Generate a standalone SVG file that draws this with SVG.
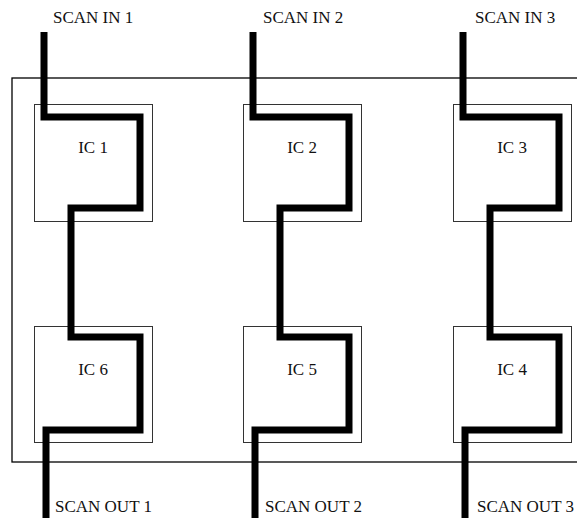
<svg xmlns="http://www.w3.org/2000/svg" width="577" height="518" viewBox="0 0 577 518">
<style>
.box{fill:none;stroke:#333;stroke-width:1}
.wire{fill:none;stroke:#000;stroke-width:7;stroke-linejoin:miter;stroke-linecap:butt}
.lbl{font-family:"Liberation Serif",serif;font-size:17px;fill:#111}
.ic{text-anchor:middle}
</style>
<rect id="board" x="12" y="78" width="580" height="384" fill="none" stroke="#000" stroke-width="1.3"/>
<g id="ic1"><rect class="box" x="34.5" y="104.5" width="118" height="117"/><text class="lbl ic" x="93" y="153">IC 1</text></g>
<g id="ic2"><rect class="box" x="243.5" y="104.5" width="118" height="117"/><text class="lbl ic" x="302" y="153">IC 2</text></g>
<g id="ic3"><rect class="box" x="453.5" y="104.5" width="118" height="117"/><text class="lbl ic" x="512" y="153">IC 3</text></g>
<g id="ic6"><rect class="box" x="34.5" y="326.5" width="118" height="116"/><text class="lbl ic" x="93" y="375">IC 6</text></g>
<g id="ic5"><rect class="box" x="243.5" y="326.5" width="118" height="116"/><text class="lbl ic" x="302" y="375">IC 5</text></g>
<g id="ic4"><rect class="box" x="453.5" y="326.5" width="118" height="116"/><text class="lbl ic" x="512" y="375">IC 4</text></g>
<g id="connectors">
<polyline class="wire" points="44,32 44,117 140,117 140,208 71,208 71,337 140,337 140,430 46,430 46,518"/>
<polyline class="wire" transform="translate(209,0)" points="44,32 44,117 140,117 140,208 71,208 71,337 140,337 140,430 46,430 46,518"/>
<polyline class="wire" transform="translate(419,0)" points="44,32 44,117 140,117 140,208 71,208 71,337 140,337 140,430 46,430 46,518"/>
</g>
<g id="labels">
<text class="lbl" x="53" y="23">SCAN IN 1</text>
<text class="lbl" x="263" y="23">SCAN IN 2</text>
<text class="lbl" x="475" y="23">SCAN IN 3</text>
<text class="lbl" x="55" y="512">SCAN OUT 1</text>
<text class="lbl" x="265" y="512">SCAN OUT 2</text>
<text class="lbl" x="477" y="512">SCAN OUT 3</text>
</g>
</svg>
